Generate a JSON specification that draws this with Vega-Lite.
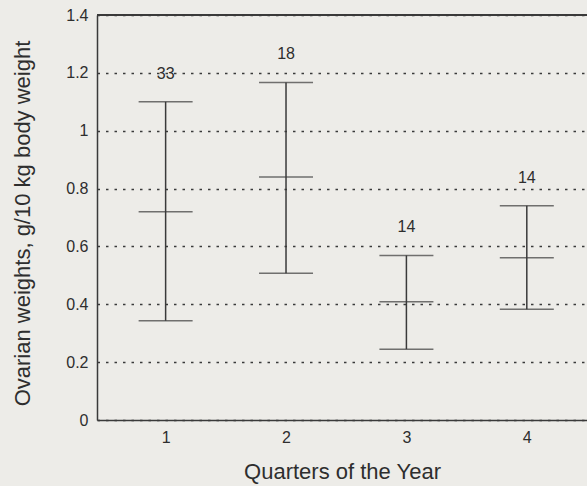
{
  "$schema": "https://vega.github.io/schema/vega-lite/v6.json",
  "width": 490,
  "height": 405,
  "autosize": {"type": "none"},
  "padding": {"left": 97, "top": 15, "right": 0, "bottom": 66},
  "background": "#edece8",
  "view": {"stroke": null},
  "config": {
    "font": "Liberation Sans",
    "axis": {
      "labelFont": "Liberation Sans",
      "titleFont": "Liberation Sans",
      "labelColor": "#2e2e2e",
      "titleColor": "#2e2e2e",
      "titleFontWeight": "normal",
      "domainColor": "#3a3a3a",
      "domainWidth": 1.5,
      "ticks": false
    }
  },
  "data": {
    "values": [
      {"quarter": 1, "mean": 0.72, "low": 0.343, "high": 1.10, "n": 33},
      {"quarter": 2, "mean": 0.84, "low": 0.507, "high": 1.167, "n": 18},
      {"quarter": 3, "mean": 0.409, "low": 0.245, "high": 0.569, "n": 14},
      {"quarter": 4, "mean": 0.561, "low": 0.383, "high": 0.741, "n": 14}
    ]
  },
  "layer": [
    {
      "mark": {"type": "rule", "color": "#3a3a3a", "strokeWidth": 1.5},
      "encoding": {"y": {"datum": 1.4, "type": "quantitative", "scale": {"domain": [0, 1.4]}}}
    },
    {
      "mark": {"type": "rule", "color": "#3a3a3a", "strokeWidth": 1.5},
      "encoding": {
        "x": {
          "field": "quarter",
          "type": "quantitative",
          "scale": {"domain": [0.43, 4.5], "nice": false, "zero": false},
          "axis": {
            "values": [1, 2, 3, 4],
            "format": "d",
            "grid": false,
            "labelFontSize": 16,
            "labelPadding": 9,
            "title": "Quarters of the Year",
            "titleFontSize": 22,
            "titleX": 245,
            "titleY": 51,
            "titleAlign": "center",
            "titleBaseline": "middle"
          }
        },
        "y": {
          "field": "low",
          "type": "quantitative",
          "scale": {"domain": [0, 1.4], "nice": false},
          "axis": {
            "values": [0, 0.2, 0.4, 0.6, 0.8, 1, 1.2, 1.4],
            "format": "~g",
            "grid": true,
            "gridColor": "#3a3a3a",
            "gridWidth": 1.5,
            "gridDash": [2.5, 6],
            "labelFontSize": 16,
            "labelPadding": 9,
            "title": "Ovarian weights, g/10 kg body weight",
            "titleFontSize": 22,
            "titleX": -75,
            "titleY": 208,
            "titleAlign": "center",
            "titleBaseline": "middle"
          }
        },
        "y2": {"field": "high"}
      }
    },
    {
      "mark": {"type": "tick", "orient": "horizontal", "color": "#3a3a3a", "size": 54, "thickness": 1.5},
      "encoding": {
        "x": {"field": "quarter", "type": "quantitative"},
        "y": {"field": "high", "type": "quantitative"}
      }
    },
    {
      "mark": {"type": "tick", "orient": "horizontal", "color": "#3a3a3a", "size": 54, "thickness": 1.5},
      "encoding": {
        "x": {"field": "quarter", "type": "quantitative"},
        "y": {"field": "low", "type": "quantitative"}
      }
    },
    {
      "mark": {"type": "tick", "orient": "horizontal", "color": "#3a3a3a", "size": 54, "thickness": 1.5},
      "encoding": {
        "x": {"field": "quarter", "type": "quantitative"},
        "y": {"field": "mean", "type": "quantitative"}
      }
    },
    {
      "mark": {"type": "text", "color": "#2e2e2e", "fontSize": 16, "dy": -28, "baseline": "middle", "align": "center"},
      "encoding": {
        "x": {"field": "quarter", "type": "quantitative"},
        "y": {"field": "high", "type": "quantitative"},
        "text": {"field": "n", "type": "quantitative"}
      }
    }
  ]
}
